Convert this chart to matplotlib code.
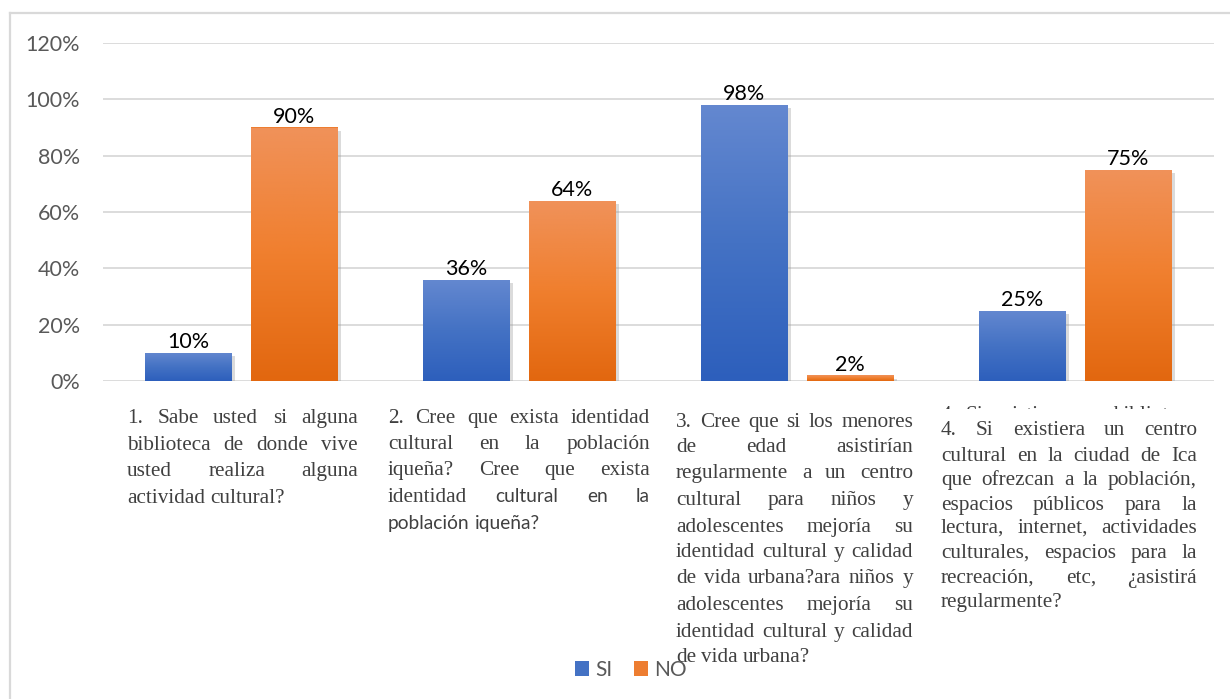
import numpy as np
import matplotlib
matplotlib.use('Agg')
from matplotlib import pyplot as plt
from matplotlib.colors import LinearSegmentedColormap
from matplotlib.patches import Patch
from matplotlib.transforms import Bbox
import matplotlib.patheffects as pe

W, H = 1230, 699

series = ['SI', 'NO']
si = [0.10, 0.36, 0.98, 0.25]
no = [0.90, 0.64, 0.02, 0.75]
yticks = [0, 0.2, 0.4, 0.6, 0.8, 1.0, 1.2]

# category texts; words after '|' are set in the sans font (label 2 mixes two fonts)
cat1 = ['1. Sabe usted si alguna',
        'biblioteca de donde vive',
        'usted realiza alguna',
        'actividad cultural?']
cat2 = ['2. Cree que exista identidad',
        'cultural en la población',
        'iqueña? Cree que exista',
        'identidad |cultural |en |la',
        '|población |iqueña?']
cat3 = ['3. Cree que si los menores',
        'de edad asistirían',
        'regularmente a un centro',
        'cultural para niños y',
        'adolescentes mejoría su',
        'identidad cultural y calidad',
        'de vida urbana?ara niños y',
        'adolescentes mejoría su',
        'identidad cultural y calidad',
        'de vida urbana?']
cat4 = ['4. Si existiera un centro',
        'cultural en la ciudad de Ica',
        'que ofrezcan a la población,',
        'espacios públicos para la',
        'lectura, internet, actividades',
        'culturales, espacios para la',
        'recreación, etc, ¿asistirá',
        'regularmente?']
cat4_hidden = '4. Si existiera una biblioteca'

blue_cm = LinearSegmentedColormap.from_list('b', ['#2d5fbc', '#4472c4', '#6488d0'])
orange_cm = LinearSegmentedColormap.from_list('o', ['#e2670f', '#f07f2e', '#f0925a'])

fig = plt.figure(figsize=(W / 100, H / 100), dpi=100)
ax = fig.add_axes([102.5 / W, 1 - 381 / H, (1214 - 102.5) / W, (381 - 43) / H])

x = np.arange(len(si))
bw = 0.313
off = 0.1906
shadow = [pe.SimplePatchShadow(offset=(2.5, -2.5), shadow_rgbFace='#9a9a9a', alpha=0.35), pe.Normal()]
grad = np.linspace(0, 1, 256).reshape(-1, 1)
for vals, pos, cm, mid in [(si, x - off, blue_cm, '#4472c4'), (no, x + off, orange_cm, '#ed7d31')]:
    bars = ax.bar(pos, vals, width=bw, color=mid, zorder=2)
    for b, v in zip(bars, vals):
        b.set_path_effects(shadow)
        im = ax.imshow(grad, extent=[b.get_x(), b.get_x() + bw, 0, v], origin='lower',
                       aspect='auto', cmap=cm, zorder=3)
        im.set_clip_path(b)
        ax.annotate(f'{v:.0%}', (b.get_x() + bw / 2, v), xytext=(0, 0.5), textcoords='offset points',
                    ha='center', va='bottom', fontsize=15.5, family='Lato', color='black', zorder=4)

ax.set_xlim(-0.5, 3.5)
ax.set_ylim(0, 1.2)
ax.set_yticks(yticks)
ax.set_yticklabels([f'{t:.0%}' for t in yticks], family='Lato', fontsize=15.5, color='#595959')
ax.set_xticks([])
ax.grid(axis='y', color='#d9d9d9', lw=1.3, zorder=0)
ax.set_axisbelow(True)
ax.tick_params(axis='y', length=0, pad=16)
for s in ax.spines.values():
    s.set_visible(False)

# outer frame (top and left only visible)
fig.add_artist(plt.Line2D([10 / W, 1], [1 - 13 / H, 1 - 13 / H], color='#d9d9d9', lw=1.6, transform=fig.transFigure))
fig.add_artist(plt.Line2D([10 / W, 10 / W], [0, 1 - 13 / H], color='#d9d9d9', lw=1.6, transform=fig.transFigure))

rend = fig.canvas.get_renderer()
serif = 'Liberation Serif'
sans = 'Lato'
tc = '#404040'


def put_block(lines, x0, x1, centers, clip=None):
    for i, (line, cy) in enumerate(zip(lines, centers)):
        if '|' in line:
            parts = line.split('|')
            words = [(parts[0].strip(), serif)] if parts[0].strip() else []
            words += [(p.strip(), sans) for p in parts[1:]]
        else:
            words = [(w, serif) for w in line.split()]
        texts = []
        for w, fam in words:
            t = fig.text(0, 1 - (cy + 5) / H, w, family=fam, color=tc, va='baseline', ha='left',
                         fontsize=15.3 if fam == serif else 13.8)
            if clip is not None:
                t.set_clip_box(clip)
                t.set_clip_on(True)
            texts.append(t)
        widths = [t.get_window_extent(rend).width for t in texts]
        last = i == len(lines) - 1 and clip is None
        if len(texts) > 1 and not last:
            gap = (x1 - x0 - sum(widths)) / (len(texts) - 1)
        else:
            gap = 5
        xx = x0
        for t, w in zip(texts, widths):
            t.set_x(xx / W)
            xx += w + gap


put_block(cat1, 127, 358, [418, 445, 471, 498])
put_block(cat2, 388, 650, [418, 444, 470, 497, 524])
put_block(cat3, 676, 913, [422, 447, 473, 500, 527, 552, 578, 605, 632, 657])
put_block(cat4, 941, 1197, [430, 456, 480, 505, 528, 553, 578, 602])
put_block([cat4_hidden], 941, 1197, [415], clip=Bbox([[930, H - 409], [1210, H - 395]]))

handles = [Patch(facecolor='#4472c4'), Patch(facecolor='#ed7d31')]
fig.legend(handles, series, loc='center', bbox_to_anchor=(631 / W, 1 - 670 / H), ncol=2, frameon=False,
           prop={'family': sans, 'size': 15}, labelcolor='#595959', handlelength=0.7, handleheight=0.7,
           handletextpad=0.3, columnspacing=1.0)

fig.savefig('out.png', dpi=100)
